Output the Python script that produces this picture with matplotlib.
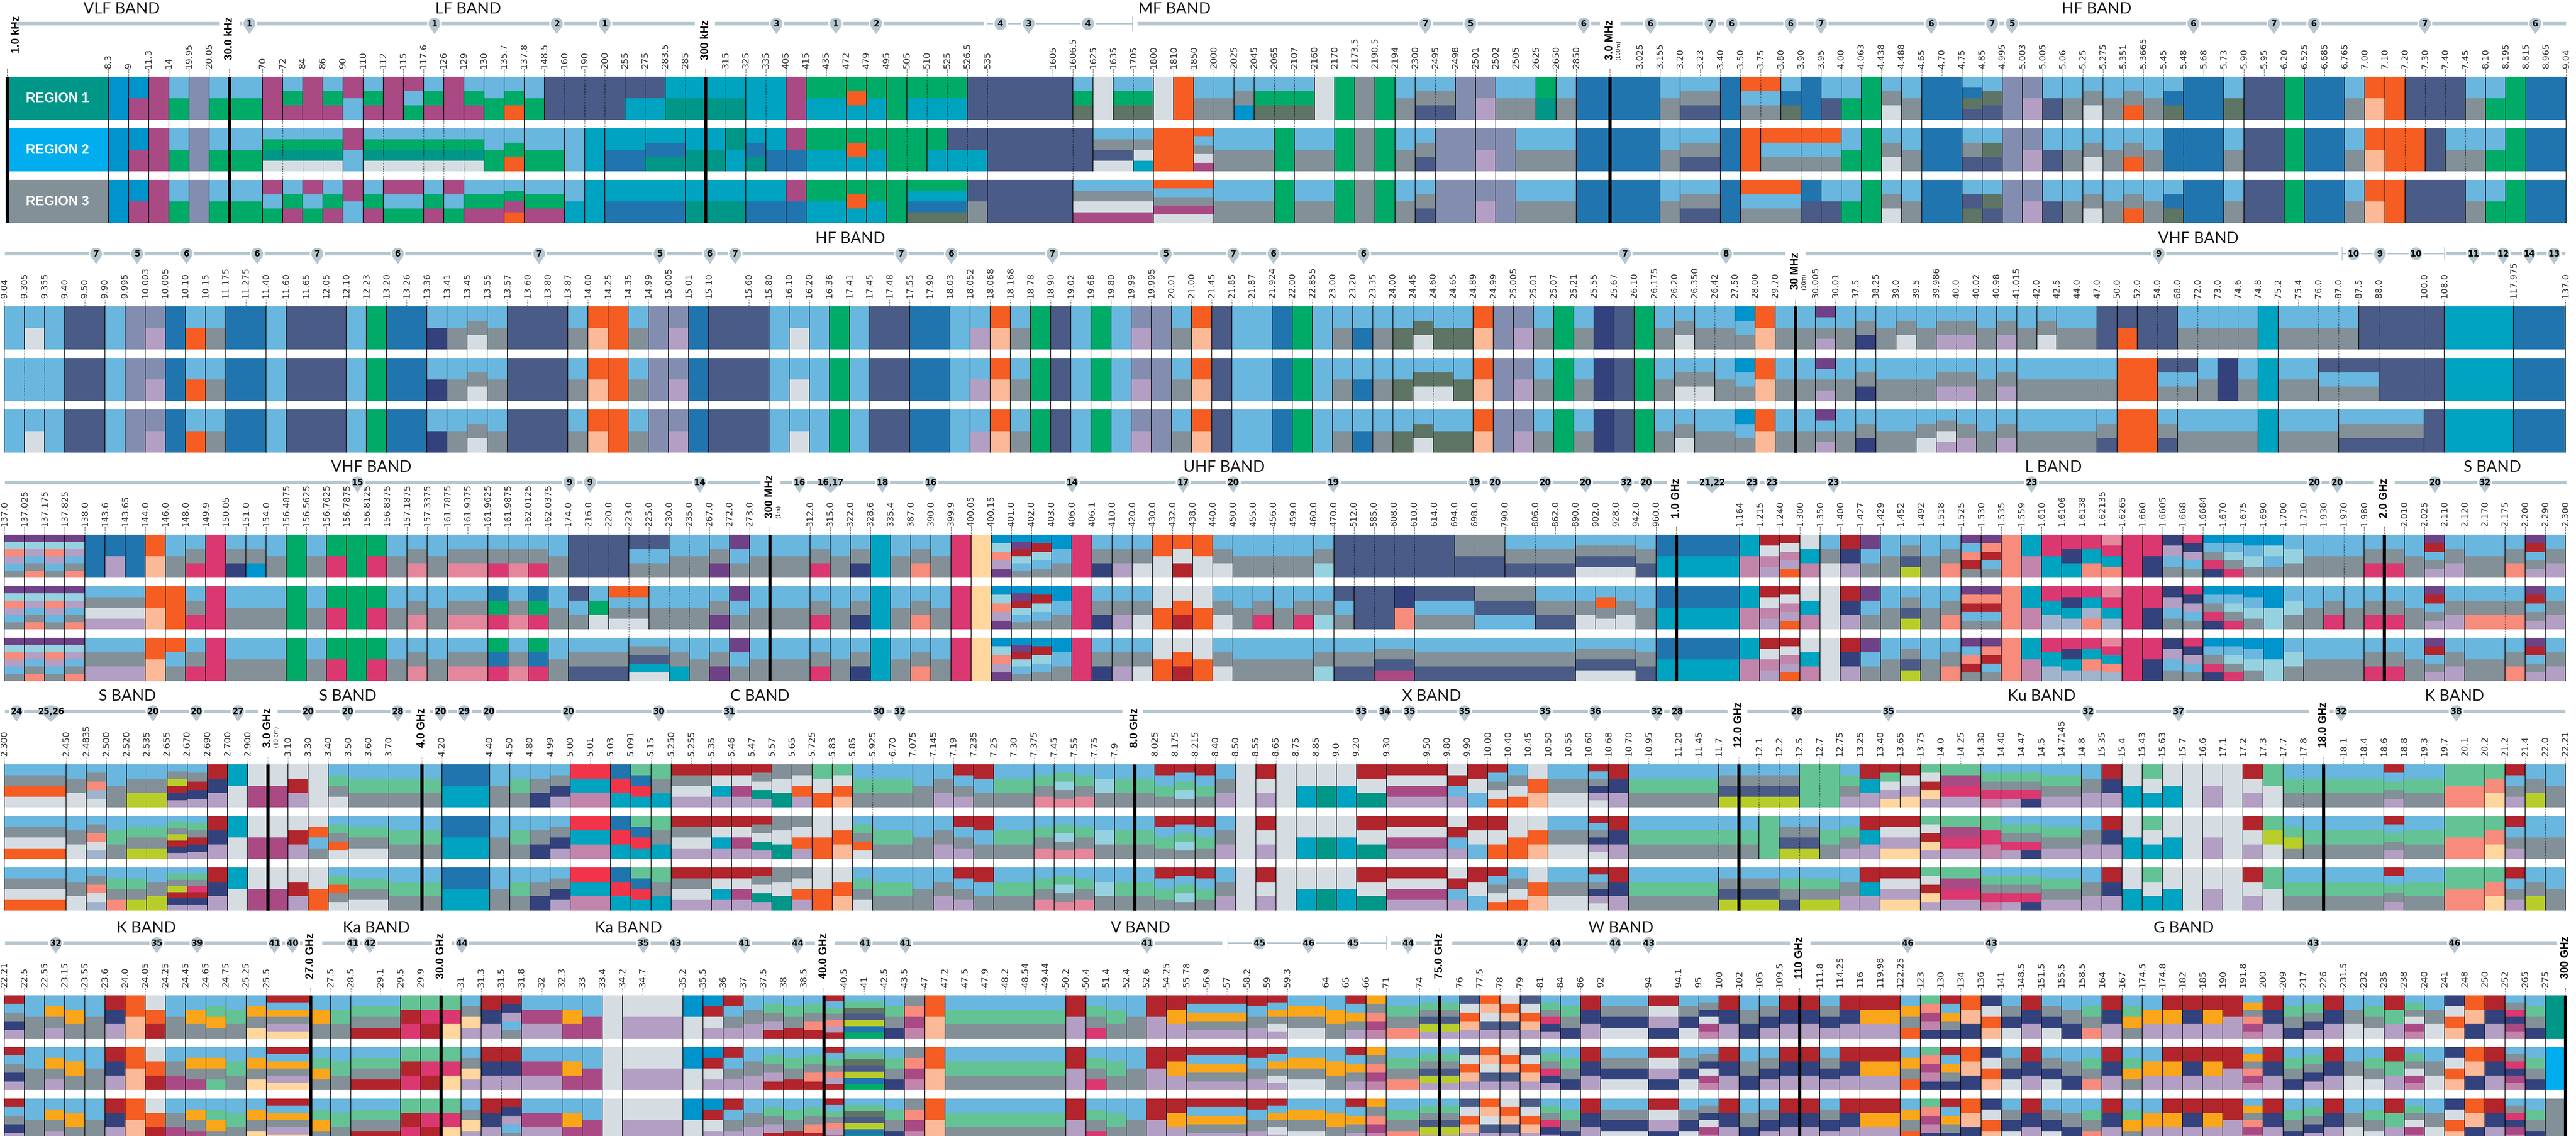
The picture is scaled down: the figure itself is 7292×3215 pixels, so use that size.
"""Frequency allocation chart: five rows of 3 regions, stacked service blocks per band."""
import matplotlib
matplotlib.use("Agg")
import matplotlib.pyplot as plt
import numpy as np

W, H = 7292, 3216
NARROW = "Liberation Sans Narrow"
SANS = "Liberation Sans"
BAND_GREY = "#B5C6CF"

COLORS = {
    "l": "#69B6DF", "g": "#00AB67", "m": "#A94A85", "p": "#838DB0", "n": "#495B86",
    "t": "#00A3C0", "d": "#2175AE", "e": "#009688", "c": "#0094CC", "o": "#F55D23",
    "s": "#D5DDE3", "a": "#839097", "h": "#5E7464", "v": "#B49FC4", "k": "#FBB997",
    "r": "#B2252D", "w": "#DB3770", "f": "#E5879C", "i": "#33427D", "j": "#6F4187",
    "q": "#96D1E0", "u": "#F78B7C", "y": "#FFD79E", "z": "#B9CD2A", "x": "#64C395",
    "b": "#FAA61A", "R": "#F2344B", "M": "#C184AB", "G": "#A0B3CC", "B": "#00AEEF",
}

# Each stack is top-to-bottom colour letters, equal shares. "a/b/c" = regions 1/2/3.
ROW1_LABELS = """1.0_kHz 8.3 9 11.3 14 19.95 20.05 30.0_kHz 70 72
84 86 90 110 112 115 117.6 126 129 130
135.7 137.8 148.5 160 190 200 255 275 283.5 285
300_kHz 315 325 335 405 415 435 472 479 495
505 510 525 526.5 535 1605 1606.5 1625 1635 1705
1800 1810 1850 2000 2025 2045 2065 2107 2160 2170
2173.5 2190.5 2194 2300 2495 2498 2501 2502 2505 2625
2650 2850 3.0_MHz 3.025 3.155 3.20 3.23 3.40 3.50 3.75
3.80 3.90 3.95 4.00 4.063 4.438 4.488 4.65 4.70 4.75
4.85 4.995 5.003 5.005 5.06 5.25 5.275 5.351 5.3665 5.45
5.48 5.68 5.73 5.90 5.95 6.20 6.525 6.685 6.765 7.00
7.10 7.20 7.30 7.40 7.45 8.10 8.195 8.815 8.965 9.04""".split()
ROW1_STACKS = """e/B/a c cm m lg p lg lg m/lges/mlg lgm/lges/lgm
m/lges/mlg lgm/lges/lgm ml lgm/lges/lgm m/lges/mlg mlg/lges/mlg lgm/lges/lgm m/lges/mlg lgm/lges/lgm lg/lg/lgm
lgo/lgo/lgmo lg/lg/lgm n/lg/lgm n/l/lt n/t/t n/td/td nt/td/td nt/tde/td te/tde/td te
te te/et/te t/tde/td t/td/td m/md/md gt gt got gt g
gt/g/gtdh gt/gt/gtdh gt/nt/gtdh n/nt/na n n lgh/n/lasm s/lans/lasm lgh/lans/lasm lgh/last/lasm
s/o/olams o/o/olams la/olasm/olams la lac/la/la lgh/la/la lgh/g/g lgh/la/la s/la/la g
a g la lan lan/p/p p pv la/p/p la ge/la/la
la d d d la lan lan d ola/o/ola ola
ldh/ola/ola d/ola/dn ln/ola/ln lg g las la d d ldhn/lan/lnh
lhn p pv ln la las la lao la ldh/d/ldh
d d lh/la/la n n g d d la ok
o n/o/n n n/la/n la lg g d d""".split()
ROW1_WIDTHS = {"1.0_kHz": 5.03, "30.0_kHz": 1.65, "535": 3.25, "3.0_MHz": 1.49, "2850": 1.67}

ROW2_LABELS = """9.04 9.305 9.355 9.40 9.50 9.90 9.995 10.003 10.005 10.10
10.15 11.175 11.275 11.40 11.60 11.65 12.05 12.10 12.23 13.20
13.26 13.36 13.41 13.45 13.55 13.57 13.60 13.80 13.87 14.00
14.25 14.35 14.99 15.005 15.01 15.10 15.60 15.80 16.10 16.20
16.36 17.41 17.45 17.48 17.55 17.90 18.03 18.052 18.068 18.168
18.78 18.90 19.02 19.68 19.80 19.99 19.995 20.01 21.00 21.45
21.85 21.87 21.924 22.00 22.855 23.00 23.20 23.35 24.00 24.45
24.60 24.65 24.89 24.99 25.005 25.01 25.07 25.21 25.55 25.67
26.10 26.175 26.20 26.350 26.42 27.50 28.00 29.70 30_MHz 30.005
30.01 37.5 38.25 39.0 39.5 39.986 40.0 40.02 40.98 41.015
42.0 42.5 44.0 47.0 50.0 52.0 54.0 68.0 72.0 73.0
74.6 74.8 75.2 75.4 76.0 87.0 87.5 88.0 100.0 108.0
117.975 137.0""".split()
ROW2_STACKS = """l ls/l/ls l n n l p pv d lo
la d d l n n n l g d
d li la las la n n n la ok
o la p pv d n n l ls l
g l n n d d l lv ok la
g n l g l pv p la ok n
l l d g l la ld la lh lhs
lh/lhs/lh lh ok p pv la g la i n
g la las la/las/la la cla ok la la jlav
la lai la las/la/la la/la/las lav/lav/lasv lav la lav la
las/la/la la la n/la/lan no/o/o n/o/o n/nla/lan la/nla/la la la/i/la
la t la la la/nla/la la/nla/lan n/nla/lan n/n/lan n t
d""".split()
ROW2_WIDTHS = {"15.10": 2, "88.0": 2.25, "108.0": 3.44, "117.975": 2.58}

ROW3_LABELS = """137.0 137.025 137.175 137.825 138.0 143.6 143.65 144.0 146.0 148.0
149.9 150.05 151.0 154.0 156.4875 156.5625 156.7625 156.7875 156.8125 156.8375
157.1875 157.3375 161.7875 161.9375 161.9625 161.9875 162.0125 162.0375 174.0 216.0
220.0 223.0 225.0 230.0 235.0 267.0 272.0 273.0 300_MHz 312.0
315.0 322.0 328.6 335.4 387.0 390.0 399.9 400.05 400.15 401.0
402.0 403.0 406.0 406.1 410.0 420.0 430.0 432.0 438.0 440.0
450.0 455.0 456.0 459.0 460.0 470.0 512.0 585.0 608.0 610.0
614.0 694.0 698.0 790.0 806.0 862.0 890.0 902.0 928.0 942.0
960.0 1.0_GHz 1.164 1.215 1.240 1.300 1.350 1.400 1.427 1.429
1.452 1.492 1.518 1.525 1.530 1.535 1.559 1.610 1.6106 1.6138
1.62135 1.6265 1.660 1.6605 1.668 1.6684 1.670 1.675 1.690 1.700
1.710 1.930 1.970 1.980 2.0_GHz 2.010 2.025 2.110 2.120 2.170
2.175 2.200 2.290 2.300""".split()
ROW3_STACKS = """jquvla jqvlau jquvla jqvlau d/lasv/lav dv/lasv/lav d/lasv/lav ok la/o/ola law
w lai/la/la lac/la/la la g la gw g gw la
laf la laf laf law/dgw/gdw laf law/dgw/gdw la n/nla/lan n/lgs/lan
n/olas/lan nla/olas/lants nla/la/lants la/la/lat la laj jla la la law
la lai t la lau la w y cquvj cjrqla
crqla cla w lai lav las os/so/so osr/sor/sor os/so/so las
la la/law/la la la/law/la laq n/nla/lan n/n/lan n/n/lanm n/iu/lanm n/nla/lan
n/nla/lan an/nla/lan an/anl/lan lan/anl/lan lan lan lans/las/lans lans/loas/lans lans/las/lans lan/la/lan
dt dt tM rsMv rsMvo stM las/s/s riv jla la
lanz la lau jlura/jurla/jlura jurla u tM wt/wtG/wtG wit/witG/witG wtu/wtGu/wtuG
fwtu/fwtG/fwtuG w wi ivla wivla clawi clqaw clqa cqla/cq/cq lqa
la la/law/la la law law la jrlav lav la/lau/la la/lau/la
lau jrlav lav""".split()
ROW3_WIDTHS = {"300_MHz": 2, "698.0": 1.5, "790.0": 1.5, "1.0_GHz": 3.14}

ROW4_LABELS = """2.300 2.450 2.4835 2.500 2.520 2.535 2.655 2.670 2.690 2.700
2.900 3.0_GHz 3.10 3.30 3.40 3.50 3.60 3.70 4.0_GHz 4.20
4.40 4.50 4.80 4.99 5.00 5.01 5.03 5.091 5.15 5.250
5.255 5.35 5.46 5.47 5.57 5.65 5.725 5.83 5.85 5.925
6.70 7.075 7.145 7.19 7.235 7.25 7.30 7.375 7.45 7.55
7.75 7.9 8.0_GHz 8.025 8.175 8.215 8.40 8.50 8.55 8.65
8.75 8.85 9.0 9.20 9.30 9.50 9.80 9.90 10.00 10.40
10.45 10.50 10.55 10.60 10.68 10.70 10.95 11.20 11.45 11.7
12.0_GHz 12.1 12.2 12.5 12.7 12.75 13.25 13.40 13.65 13.75
14.0 14.25 14.30 14.40 14.47 14.5 14.7145 14.8 15.35 15.4
15.43 15.63 15.7 16.6 17.1 17.2 17.3 17.7 17.8 18.0_GHz
18.1 18.4 18.6 18.8 19.3 19.7 20.1 20.2 21.2 21.4
22.0 22.21""".split()
ROW4_STACKS = """laos/laso/laso las lauGs/lausG/lausG la/lxa/lxau laz/lxaz/lxaz laz/lxaz/laz lazriv/lxazriv/lxazriv lariv/lxariv/lxawriv riv ts
sm sm srv s/sola/so lxas/lxaos/lxoas lxa/lxas/lxas lxa/lxas/lxas lxa lxa dt
la lxa lai laiv RtM RtM dRt xdRt xat rasv
rasv rstv rsmv rasev ase asov xso/so/so xsok/sok/sok lxa/lxaos/lxas lxa
lxa la lav rlav rla lxa lxa lxaf lxqaf lxaf
lqa lxa lxa rlxa rlxqa rlxa lav s rsv s
st se st rse rsmv rsmv srlv rsl rlaso/rso/rlaso laso/so/laso
sok las las rlaivs riv lxa lxa lxa lxa lanz/lxa/lanz
lanz/lxa/lanz lanz/x/lanz lanz/lanz/lxan x/lanz/lxaz x/lxa/lxaz lxav/lxav/lav rtv rxsvy/rsvy/rsvy rsvy xsryv
xmwv xmwv lxawM/xwM/lxawM lxawv lxawi lxav lxav lav riv st
xst st s sv s rsv xs/xzs/xs lxa/lxza/lxa lxa lxa
lxa lxa rlxav lxa lxa xu xu xuy rlav laz/la/laz
la""".split()
ROW4_WIDTHS = {"2.300": 3.07, "3.70": 1.64, "4.20": 2.37, "9.20": 1.5, "9.30": 2, "10.95": 1.47}

ROW5_LABELS = """22.21 22.5 22.55 23.15 23.55 23.6 24.0 24.05 24.25 24.45
24.65 24.75 25.25 25.5 27.0_GHz 27.5 28.5 29.1 29.5 29.9
30.0_GHz 31 31.3 31.5 31.8 32 32.3 33 33.4 34.2
34.7 35.2 35.5 36 37 37.5 38 38.5 40.0_GHz 40.5
41 42.5 43.5 47 47.2 47.5 47.9 48.2 48.54 49.44
50.2 50.4 51.4 52.4 52.6 54.25 55.78 56.9 57 58.2
59 59.3 64 65 66 71 74 75.0_GHz 76 77.5
78 79 81 84 86 92 94 94.1 95 100
102 105 109.5 110_GHz 111.8 114.25 116 119.98 122.25 123
130 134 136 141 148.5 151.5 155.5 158.5 164 167
174.5 174.8 182 185 190 191.8 200 209 217 226
231.5 232 235 238 240 241 248 250 252 265
275 300_GHz""".split()
ROW5_STACKS = """rlaiv la lbav lba la riv ok sor la/lam/lam lba/lbam/lbam
lxba/lbax/lxba lxa lbay rlbavy lba/lxba/lxba lxa lxar lxar xrw xwr
xwy layv riv rivla/riv/rivla lmv lmv lbm lm s sv
sv cs crsv rlav lav lxavr lxar lxaur rlxauvr lxhnzdg
lxhnzdg lxai aumM ok lxa lxa lxa lxa lxa lxa
rv lxaw lxa la rv rbv rlbav rlbav rlbav rlav
rlbasv lbas lba rlbav baumM lxau lxanzv lxanzv nsokv oksnv
soknv nsokv lxawiv lxai riv lais rsvi lais laismM riv
lai laiv riv riv laiv riv rbv rbv lbao xumMi
rlbai oki isok lais riv lais lai lxau riv lxba
lbv rbv riv rbv rv lbaumM riv lxai lxaiv riv
las lxas rxv lxasmM las isok oki riv lawimM lxai
e/B/a""".split()
ROW5_WIDTHS = {"25.5": 2.2, "28.5": 1.47, "34.7": 2, "59.3": 1.9, "71": 1.64, "92": 2.37, "94": 1.5}

# note numbers on the band lines and where they sit along the row (pixels)
ROW1_NOTES = "1 1 2 1 3 1 2 4 3 4 7 5 6 6 7 6 6 7 6 7 5 6 7 6 7 6".split()
ROW1_NOTE_X = [706, 1230, 1576, 1712, 2198, 2366, 2480, 2832, 2912, 3080, 4035, 4162, 4483, 4672, 4842,
               4902, 5069, 5155, 5467, 5639, 5695, 6209, 6437, 6550, 6864, 7177]
ROW2_NOTES = "7 5 6 6 7 6 7 5 6 7 7 6 7 5 7 6 6 7 8 9 10 9 10 11 12 14 13".split()
ROW2_NOTE_X = [272, 388, 528, 728, 898, 1126, 1526, 1867, 2009, 2081, 2551, 2693, 2979, 3300, 3491, 3605,
               3860, 4600, 4886, 6111, 6662, 6737, 6839, 7002, 7086, 7160, 7230]
ROW3_NOTES = ("15 9 9 14 16 16,17 18 16 14 17 20 19 19 20 20 20 32 20 21,22 23 23 23 23 20 20 20 32").split()
ROW3_NOTE_X = [1012, 1612, 1670, 1981, 2263, 2351, 2498, 2635, 3035, 3349, 3491, 3774, 4174, 4232, 4374,
               4488, 4604, 4660, 4846, 4960, 5016, 5190, 5751, 6551, 6616, 6893, 7034]
ROW4_NOTES = ("24 25,26 20 20 27 20 20 28 20 29 20 20 30 31 30 32 33 34 35 35 35 36 32 28 28 35 32 37 32 38").split()
ROW4_NOTE_X = [47, 144, 433, 556, 674, 872, 984, 1126, 1247, 1314, 1384, 1609, 1865, 2065, 2488, 2547, 3853,
               3920, 3990, 4146, 4374, 4516, 4690, 4748, 5086, 5346, 5911, 6167, 6627, 6953]
ROW5_NOTES = ("32 35 39 41 40 41 42 44 35 43 41 44 41 41 41 45 46 45 44 47 44 44 43 46 43 43 46").split()
ROW5_NOTE_X = [158, 444, 558, 777, 828, 998, 1047, 1307, 1821, 1912, 2107, 2258, 2449, 2563, 3247, 3565, 3704,
               3830, 3986, 4309, 4402, 4572, 4667, 5400, 5637, 6548, 6948]
NO_TAIL = {(0, 7), (0, 9), (1, 20), (1, 22), (4, 15), (4, 17)}

ROW1_BANDS = ["VLF BAND", "LF BAND", "MF BAND", "HF BAND"]
ROW1_BAND_X = [344, 1325, 3324, 5935]
ROW2_BANDS = ["HF BAND", "VHF BAND"]
ROW2_BAND_X = [2407, 6223]
ROW3_BANDS = ["VHF BAND", "UHF BAND", "L BAND", "S BAND"]
ROW3_BAND_X = [1051, 3465, 5813, 7055]
ROW4_BANDS = ["S BAND", "S BAND", "C BAND", "X BAND", "Ku BAND", "K BAND"]
ROW4_BAND_X = [360, 984, 2151, 4053, 5779, 6948]
ROW5_BANDS = ["K BAND", "Ka BAND", "Ka BAND", "V BAND", "W BAND", "G BAND"]
ROW5_BAND_X = [414, 1065, 1779, 3228, 4588, 6181]

WAVELENGTHS = {"3.0_MHz": "(100m)", "30_MHz": "(10m)", "300_MHz": "(1m)", "3.0_GHz": "(10 cm)"}
REGION_NAMES = ["REGION 1", "REGION 2", "REGION 3"]

# layout: top of block, x range, band line pieces, thin pieces
ROW_TOP = [218, 868, 1514, 2164, 2818]
ROW_X = [(20, 7264), (12, 7262), (12, 7262), (12, 7262), (12, 7262)]
REGION_Y = [0, 146, 292]
REGION_H = 122
BAND_Y = [68, 719, 1366, 2014, 2670]
BAND_SEGS = [
    [(47, 622), (680, 1967), (2024, 2785), (3220, 4529), (4587, 7264)],
    [(14, 5053), (5111, 6618), (6925, 7262)],
    [(14, 2153), (2209, 4718), (4776, 6720), (6779, 7265)],
    [(14, 730), (786, 1163), (1216, 3177), (3235, 4890), (4946, 6537), (6595, 7262)],
    [(14, 856), (912, 1223), (1279, 2307), (2363, 3460), (3937, 4053), (4111, 5069), (5125, 7237)],
]
BAND_THIN = [[(2794, 3206)], [(6630, 6920)], [], [], [(3476, 3925)]]

ROWS = [
    (ROW1_LABELS, ROW1_STACKS, ROW1_WIDTHS, ROW1_NOTES, ROW1_NOTE_X, ROW1_BANDS, ROW1_BAND_X),
    (ROW2_LABELS, ROW2_STACKS, ROW2_WIDTHS, ROW2_NOTES, ROW2_NOTE_X, ROW2_BANDS, ROW2_BAND_X),
    (ROW3_LABELS, ROW3_STACKS, ROW3_WIDTHS, ROW3_NOTES, ROW3_NOTE_X, ROW3_BANDS, ROW3_BAND_X),
    (ROW4_LABELS, ROW4_STACKS, ROW4_WIDTHS, ROW4_NOTES, ROW4_NOTE_X, ROW4_BANDS, ROW4_BAND_X),
    (ROW5_LABELS, ROW5_STACKS, ROW5_WIDTHS, ROW5_NOTES, ROW5_NOTE_X, ROW5_BANDS, ROW5_BAND_X),
]


def split_regions(stack):
    parts = stack.split("/")
    return parts if len(parts) == 3 else parts * 3


def draw_row(fig, idx, labels, stacks, widths):
    assert len(labels) == len(stacks) + 1, (idx, len(labels), len(stacks))
    top = ROW_TOP[idx]
    x0, x1 = ROW_X[idx]
    block = REGION_Y[-1] + REGION_H
    ax = fig.add_axes([x0 / W, 1 - (top + block) / H, (x1 - x0) / W, block / H])
    edges = np.concatenate([[0], np.cumsum([widths.get(lb, 1) for lb in labels[:-1]])])
    ax.set_xlim(0, edges[-1])
    ax.set_ylim(block, 0)
    ax.axis("off")

    cols = [split_regions(s) for s in stacks]
    cells = {}
    for j, regions in enumerate(cols):
        for r, stack in enumerate(regions):
            share = REGION_H / len(stack)
            for k, letter in enumerate(stack):
                cells.setdefault(letter, []).append(
                    (edges[j], edges[j + 1] - edges[j], REGION_Y[r] + k * share, share))
    for letter, rects in cells.items():
        lefts, ws, bottoms, hs = zip(*rects)
        ax.bar(lefts, hs, width=ws, bottom=bottoms, align="edge", color=COLORS[letter],
               linewidth=0, antialiased=False, zorder=1)

    solid, dashed = [], []
    for j in range(len(labels)):
        x = edges[j]
        if 0 < j < len(cols):
            differs = [cols[j - 1][r] != cols[j][r] for r in range(3)]
        else:
            differs = [True, True, True]
        for r in range(3):
            y0, y1 = REGION_Y[r], REGION_Y[r] + REGION_H
            if differs[r]:
                solid.append((x, y0, y1))
            elif any(differs[r + 1:]):
                dashed.append((x, y0, y1))
            if r < 2:
                y2 = REGION_Y[r + 1]
                if differs[r] and differs[r + 1]:
                    solid.append((x, y1, y2))
                elif any(differs[r + 1:]):
                    dashed.append((x, y1, y2))
        dashed.append((x, -22, 0))
        name = labels[j]
        if "_" in name:
            ax.vlines(x, 0, block, color="black", lw=6.5, zorder=4, clip_on=False)
            bottom = -68 if j == 0 else -48
            shift = widths.get(labels[0], 1) * 0.09 if j == 0 else 0
            ax.text(x + shift, bottom, name.replace("_", " "), rotation=90, ha="center", va="bottom",
                    family=SANS, fontweight="bold", fontsize=22, color="black")
            if name in WAVELENGTHS:
                ax.text(x + 0.42, bottom, WAVELENGTHS[name], rotation=90, ha="center", va="bottom",
                        family=NARROW, fontsize=11, color="black")
        else:
            ax.text(x, -24, name, rotation=90, ha="center", va="bottom",
                    family=NARROW, fontsize=18, color="#333333")
    for seg, style, lw in [(solid, "solid", 1.3), (dashed, (0, (2, 2)), 0.8)]:
        xs, lo, hi = zip(*seg)
        ax.vlines(xs, lo, hi, color="black", linestyles=style, lw=lw, zorder=3, clip_on=False)
    return ax


def pin(ann, x, y, text, tail=True):
    rx = 30 if "," in text else 19
    if tail:
        t = np.radians(np.linspace(150, 390, 60))
        px = np.concatenate([x + rx * np.cos(t), [x]])
        py = np.concatenate([y + 19 * np.sin(t), [y + 33]])
    else:
        t = np.radians(np.linspace(0, 360, 60))
        px, py = x + rx * np.cos(t), y + 20 * np.sin(t)
    ann.fill(px, py, facecolor=BAND_GREY, edgecolor="white", lw=3, zorder=3, joinstyle="round")
    ann.text(x, y, text, ha="center", va="center", family=NARROW, fontweight="bold",
             fontsize=17, color="black", zorder=4)


fig = plt.figure(figsize=(W / 100, H / 100), dpi=100)
ann = fig.add_axes([0, 0, 1, 1], zorder=5)
ann.set_xlim(0, W)
ann.set_ylim(H, 0)
ann.axis("off")
ann.patch.set_alpha(0)

for idx, (labels, stacks, widths, notes, note_x, bands, band_x) in enumerate(ROWS):
    draw_row(fig, idx, labels, stacks, widths)
    y = BAND_Y[idx]
    for a, b in BAND_SEGS[idx]:
        ann.fill_between([a, b], y - 5, y + 5, color=BAND_GREY, lw=0, zorder=1)
    for a, b in BAND_THIN[idx]:
        ann.fill_between([a, b], y - 2, y + 2, color=BAND_GREY, lw=0, zorder=1)
        ann.vlines([a, b], y - 20, y + 20, color=BAND_GREY, lw=1.5, zorder=1)
    for k, (num, x) in enumerate(zip(notes, note_x)):
        pin(ann, x, y, num, tail=(idx, k) not in NO_TAIL)
    for name, x in zip(bands, band_x):
        ann.text(x, y - 43, name, ha="center", va="center", family="Lato", fontweight="normal",
                 fontsize=32, color="#1a1a1a")

for r, name in enumerate(REGION_NAMES):
    ann.text(73, ROW_TOP[0] + REGION_Y[r] + REGION_H / 2, name, ha="left", va="center",
             family=SANS, fontweight="bold", fontsize=27, color="white", zorder=4)

fig.savefig("out.png", dpi=100, facecolor="white")
